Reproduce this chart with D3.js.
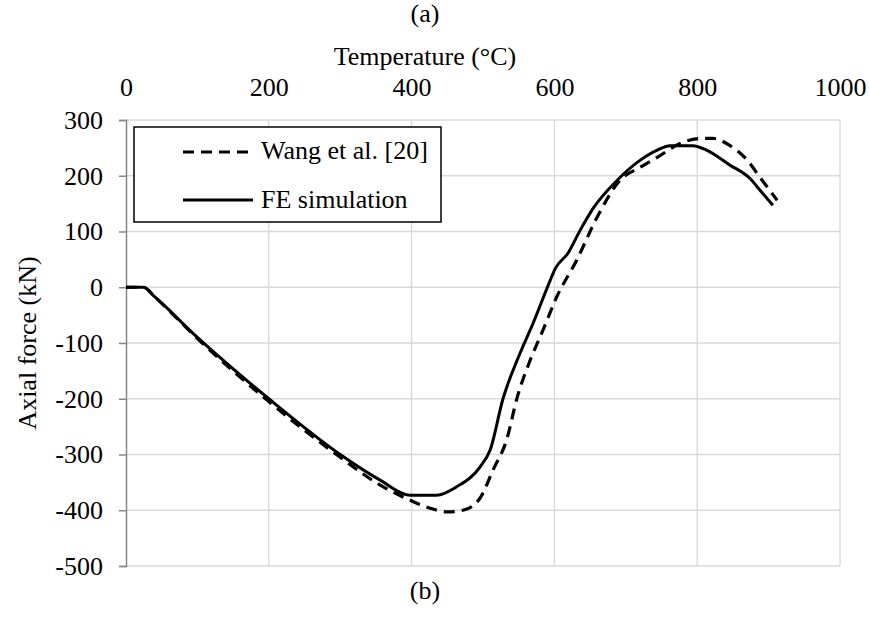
<!DOCTYPE html>
<html><head><meta charset="utf-8">
<script src="https://cdn.jsdelivr.net/npm/d3@7"></script>
<style>body{margin:0;background:#fff}svg{display:block}text{font-family:"Liberation Serif","Times New Roman",serif;fill:#000}</style>
</head><body><svg id="c" width="870" height="620"></svg>
<script>
const xTicks = [0, 200, 400, 600, 800, 1000];
const yTicks = [300, 200, 100, 0, -100, -200, -300, -400, -500];
const seriesNames = ["Wang et al. [20]", "FE simulation"];
const wangT = [0, 25, 40, 100, 200, 300, 356, 398, 425, 450, 472, 496, 514, 533, 548, 566, 584, 603, 631, 660, 692, 720, 744, 776, 808, 822, 846, 870, 888, 912];
const wangF = [0, 0, -17, -92, -205, -305, -355, -382, -396, -403, -400, -378, -328, -274, -197, -131, -77, -18, 48, 126, 192, 215, 233, 258, 267, 267, 254, 228, 197, 156];
const feT = [0, 24, 40, 100, 200, 300, 356, 398, 435, 463, 496, 510, 528, 552, 570, 594, 601, 619, 636, 654, 688, 716, 744, 762, 794, 813, 846, 874, 888, 906];
const feF = [0, 0, -17, -90, -200, -300, -346, -373, -373, -358, -322, -292, -200, -118, -65, 12, 33, 61, 102, 141, 192, 224, 246, 254, 254, 246, 219, 195, 174, 147];

const FS = "26px";
const svg = d3.select("#c");
const L = 126, R = 840, T = 120, B = 566;
const x = d3.scaleLinear().domain([0, 1000]).range([L, R]);
const y = d3.scaleLinear().domain([-500, 300]).range([B, T]);

// gridlines
svg.append("g").selectAll("line").data(yTicks).join("line")
  .attr("x1", L).attr("x2", R).attr("y1", d => y(d)).attr("y2", d => y(d))
  .attr("stroke", "#d9d9d9").attr("stroke-width", 1.3);
svg.append("g").selectAll("line").data(xTicks.slice(1)).join("line")
  .attr("x1", d => x(d)).attr("x2", d => x(d)).attr("y1", T).attr("y2", B)
  .attr("stroke", "#d9d9d9").attr("stroke-width", 1.3);

// y axis
const yAxis = d3.axisLeft(y).tickValues(yTicks).tickSize(7).tickPadding(16).tickFormat(d => String(d));
const gy = svg.append("g").attr("transform", `translate(${L},0)`).call(yAxis);
gy.select(".domain").attr("stroke", "#868686").attr("stroke-width", 1.5);
gy.selectAll(".tick line").attr("stroke", "#868686").attr("stroke-width", 1.5);
gy.selectAll("text").style("font-family", '"Liberation Serif", serif').style("font-size", FS).attr("fill", "#000");

// top x axis labels
const xAxis = d3.axisTop(x).tickValues(xTicks).tickSize(0).tickPadding(24).tickFormat(d => String(d));
const gx = svg.append("g").attr("transform", `translate(0,${T})`).call(xAxis);
gx.select(".domain").remove();
gx.selectAll("text").style("font-family", '"Liberation Serif", serif').style("font-size", FS).attr("fill", "#000");

// lines
const line = d3.line().x(d => x(d[0])).y(d => y(d[1])).curve(d3.curveMonotoneX);
const wang = wangT.map((t, i) => [t, wangF[i]]);
const fe = feT.map((t, i) => [t, feF[i]]);
svg.append("path").datum(fe).attr("d", line).attr("fill", "none").attr("stroke", "#000").attr("stroke-width", 3);
svg.append("path").datum(wang).attr("d", line).attr("fill", "none").attr("stroke", "#000").attr("stroke-width", 3.2).attr("stroke-dasharray", "11,7");

// legend
const lg = svg.append("g");
lg.append("rect").attr("x", 134).attr("y", 127).attr("width", 307).attr("height", 95).attr("fill", "#fff").attr("stroke", "#000").attr("stroke-width", 1.5);
lg.append("line").attr("x1", 183).attr("x2", 253).attr("y1", 152).attr("y2", 152).attr("stroke", "#000").attr("stroke-width", 3.2).attr("stroke-dasharray", "11,7");
lg.append("line").attr("x1", 183).attr("x2", 253).attr("y1", 200).attr("y2", 200).attr("stroke", "#000").attr("stroke-width", 3);
lg.append("text").attr("x", 261).attr("y", 159).style("font-size", FS).text(seriesNames[0]);
lg.append("text").attr("x", 261).attr("y", 208).style("font-size", FS).text(seriesNames[1]);

// titles
svg.append("text").attr("x", 425).attr("y", 22).attr("text-anchor", "middle").style("font-size", FS).text("(a)");
svg.append("text").attr("x", 425).attr("y", 65).attr("text-anchor", "middle").style("font-size", FS).text("Temperature (°C)");
svg.append("text").attr("x", 425).attr("y", 599).attr("text-anchor", "middle").style("font-size", FS).text("(b)");
svg.append("text").attr("transform", "translate(36,343) rotate(-90)").attr("text-anchor", "middle").style("font-size", FS).text("Axial force (kN)");
</script></body></html>
